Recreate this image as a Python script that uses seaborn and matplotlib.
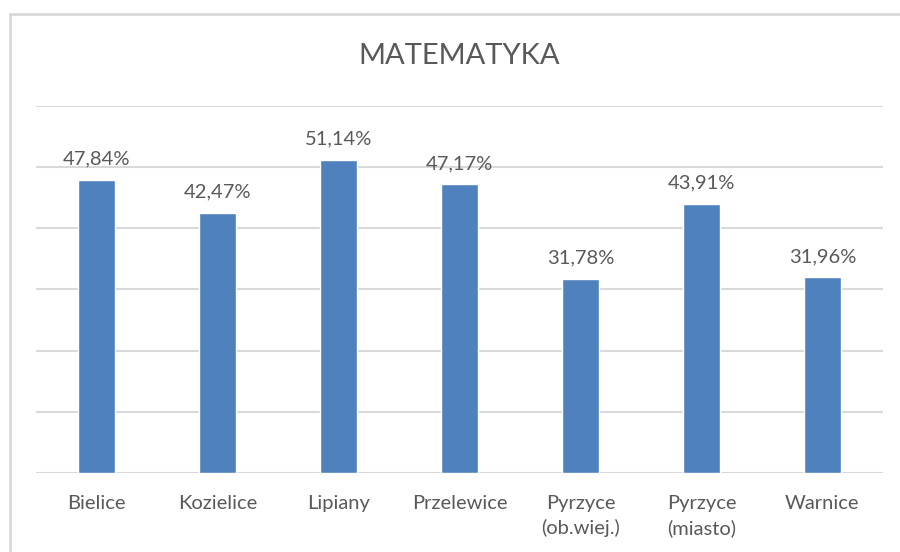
import matplotlib
matplotlib.use("Agg")
import matplotlib.pyplot as plt
import seaborn as sns
import pandas as pd
from matplotlib.lines import Line2D

# Data
categories = ["Bielice", "Kozielice", "Lipiany", "Przelewice",
              "Pyrzyce\n(ob.wiej.)", "Pyrzyce\n(miasto)", "Warnice"]
values = [47.84, 42.47, 51.14, 47.17, 31.78, 43.91, 31.96]
title = "MATEMATYKA"

df = pd.DataFrame({"gmina": categories, "wynik": values})

sns.set_theme(style="white")
plt.rcParams["font.family"] = ["Lato", "DejaVu Sans"]

text_color = "#595959"
grid_color = "#D9D9D9"
bar_color = "#4F81BD"

fig = plt.figure(figsize=(9, 5.52), dpi=100)
ax = fig.add_axes([0.04, 0.1431, 0.941, 0.665])

sns.barplot(data=df, x="gmina", y="wynik", color=bar_color, width=0.31,
            saturation=1, ax=ax)

ax.set_ylim(0, 60)
ax.set_yticks(range(0, 61, 10))
ax.yaxis.grid(True, color=grid_color, linewidth=1.5)
ax.set_axisbelow(True)
ax.tick_params(axis="y", left=False, labelleft=False)
ax.tick_params(axis="x", bottom=False, labelsize=14.5, colors=text_color, pad=10)
for lbl in ax.get_xticklabels():
    lbl.set_linespacing(1.45)
for s in ax.spines.values():
    s.set_visible(False)
ax.set_xlabel("")
ax.set_ylabel("")

# data labels with comma decimal separator
labels = [f"{v:.2f}".replace(".", ",") + "%" for v in values]
ax.bar_label(ax.containers[0], labels=labels, padding=9, fontsize=14.5,
             color=text_color)

# title centred over the plot area
fig.text(0.5106, 0.898, title, ha="center", va="center", fontsize=21,
         color=text_color)

# chart border (Excel chart area)
fig.add_artist(Line2D([9.5 / 900, 9.5 / 900], [0, 1 - 13.5 / 552],
                      transform=fig.transFigure, color=grid_color, linewidth=2))
fig.add_artist(Line2D([9.5 / 900, 1], [1 - 13.5 / 552, 1 - 13.5 / 552],
                      transform=fig.transFigure, color=grid_color, linewidth=2))

fig.savefig("out.png", dpi=100)
